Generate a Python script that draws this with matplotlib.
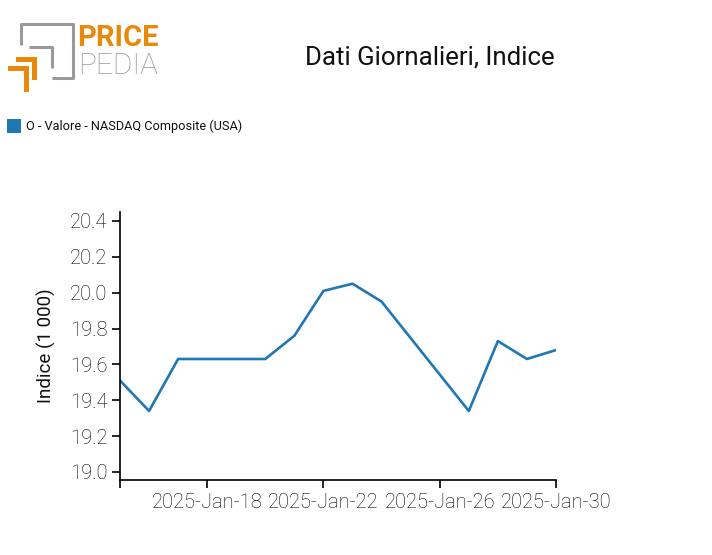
import numpy as np
import pandas as pd
import matplotlib
matplotlib.use('Agg')
import matplotlib.pyplot as plt
import matplotlib.dates as mdates
from matplotlib.patches import Rectangle

# data (values in thousands)
dates = ['2025-01-15', '2025-01-16', '2025-01-17', '2025-01-20', '2025-01-21',
         '2025-01-22', '2025-01-23', '2025-01-24', '2025-01-27', '2025-01-28',
         '2025-01-29', '2025-01-30']
values = [19.51, 19.34, 19.63, 19.63, 19.76, 20.01, 20.05, 19.95, 19.34, 19.73,
          19.63, 19.68]
tick_dates = ['2025-01-15', '2025-01-18', '2025-01-22', '2025-01-26', '2025-01-30']
y_ticks = [19.0, 19.2, 19.4, 19.6, 19.8, 20.0, 20.2, 20.4]
series_name = 'O - Valore - NASDAQ Composite (USA)'

plt.rcParams['font.family'] = ['Roboto', 'DejaVu Sans']

W, H = 712, 555
fig = plt.figure(figsize=(W / 100, H / 100), dpi=100)

x = pd.to_datetime(dates)
blue = '#1f77b4'
txt = '#111111'

ax = fig.add_axes([120 / W, (H - 480) / H, (556 - 120) / W, (480 - 212) / H])
ax.plot(x, values, color=blue, lw=1.9)

ax.set_xlim(pd.Timestamp('2025-01-15'), pd.Timestamp('2025-01-30'))
ax.set_ylim(18.955, 20.45)
xt = pd.to_datetime(tick_dates)
ax.set_xticks(xt)
ax.set_xticklabels([''] + [d.strftime('%Y-%b-%d') for d in xt[1:]])
ax.set_yticks(y_ticks)
ax.set_yticklabels(['%.1f' % v for v in y_ticks])
for s in ['top', 'right']:
    ax.spines[s].set_visible(False)
for s in ['left', 'bottom']:
    ax.spines[s].set_linewidth(1.2)
ax.tick_params(axis='both', direction='out', length=6, width=1.2,
               labelsize=14.5, colors='black', pad=3)
for lab in ax.get_xticklabels() + ax.get_yticklabels():
    lab.set_fontweight('light')
ax.set_ylabel('Indice (1 000)', fontsize=13.5, color=txt, labelpad=10)

# overlay axes in pixel coordinates for logo, title, legend
ov = fig.add_axes([0, 0, 1, 1], zorder=-1)
ov.set_xlim(0, W)
ov.set_ylim(H, 0)
ov.axis('off')

gray = '#9a9a9a'
orange = '#e8890c'
# gray frame
ov.plot([21, 21, 73, 73, 52], [45, 24, 24, 78, 78], color=gray, lw=2.2,
        solid_capstyle='butt')
ov.plot([29, 52, 52], [47, 47, 68], color=gray, lw=2.2, solid_capstyle='butt')
# orange corners
ov.add_patch(Rectangle((16, 57), 21, 5, color=orange, lw=0))
ov.add_patch(Rectangle((32, 57), 5, 23, color=orange, lw=0))
ov.add_patch(Rectangle((8, 66), 21, 5, color=orange, lw=0))
ov.add_patch(Rectangle((24, 66), 5, 26, color=orange, lw=0))
ov.text(77, 38, 'PRICE', color=orange, fontsize=21, fontweight='bold',
        va='center', ha='left')
ov.text(78, 66, 'PEDIA', color=gray, fontsize=21.5, fontweight='light',
        va='center', ha='left')

ov.text(430, 58, 'Dati Giornalieri, Indice', fontsize=18.6, color=txt,
        ha='center', va='center')

ov.add_patch(Rectangle((7, 119), 14, 14, color=blue, lw=0))
ov.text(26, 126.5, series_name, fontsize=9.2, color=txt,
        ha='left', va='center')

fig.savefig('out.png', dpi=100)
